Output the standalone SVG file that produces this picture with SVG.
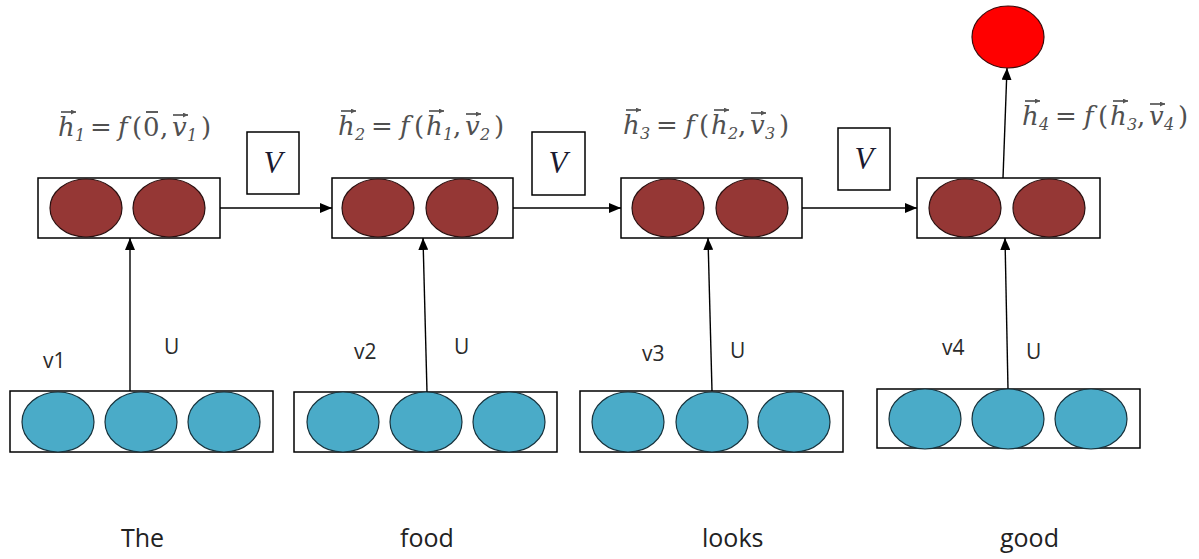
<svg xmlns="http://www.w3.org/2000/svg" width="1199" height="559" viewBox="0 0 1199 559">
<defs>
<marker id="arr" markerUnits="userSpaceOnUse" markerWidth="12" markerHeight="10" refX="12" refY="5" orient="auto">
<path d="M0,0 L12,5 L0,10 z" fill="#000"/>
</marker>
<marker id="vec" markerUnits="userSpaceOnUse" markerWidth="5" markerHeight="5" refX="5" refY="2.5" orient="auto">
<path d="M0,0 L5,2.5 L0,5 z" fill="#555"/>
</marker>
<style>
.box{fill:#fff;stroke:#000;stroke-width:1.5}
.hid{fill:#953735;stroke:#2a1010;stroke-width:1.2}
.inp{fill:#4aabc8;stroke:#17323c;stroke-width:1.2}
.out{fill:#ff0000;stroke:#3a0a0a;stroke-width:1.2}
.conn{stroke:#000;stroke-width:1.4;fill:none;marker-end:url(#arr)}
.f{font-family:"DejaVu Serif","Liberation Serif",serif;font-style:italic;font-size:26px;fill:#505050}
.f .n{font-style:normal}
.f .s{font-size:16px}
.vb{stroke:#555;stroke-width:1.7;fill:none;marker-end:url(#vec)}
.bar{stroke:#555;stroke-width:1.9;fill:none}
.vlab{font-family:"Liberation Serif",serif;font-style:italic;font-size:31px;fill:#1a1a30}
.lab{font-family:"Open Sans","Liberation Sans",sans-serif;font-size:21px;fill:#2a2a2a}
.word{font-family:"Open Sans","Liberation Sans",sans-serif;font-size:25px;fill:#222}
</style>
</defs>

<g id="connectors">
<line class="conn" x1="220" y1="208" x2="332" y2="208"/>
<line class="conn" x1="513" y1="208" x2="621" y2="208"/>
<line class="conn" x1="802" y1="208" x2="917" y2="208"/>
<line class="conn" x1="130" y1="391" x2="130" y2="238"/>
<line class="conn" x1="427" y1="392" x2="423" y2="238"/>
<line class="conn" x1="712" y1="391" x2="708" y2="238"/>
<line class="conn" x1="1008" y1="389" x2="1005" y2="238"/>
<line class="conn" x1="1003" y1="178" x2="1007" y2="68"/>
</g>

<g id="hidden1">
<rect class="box" x="38" y="178" width="182" height="60"/>
<ellipse class="hid" cx="86" cy="208" rx="36" ry="29"/>
<ellipse class="hid" cx="169" cy="208" rx="36" ry="29"/>
</g>
<g id="hidden2">
<rect class="box" x="332" y="178" width="181" height="60"/>
<ellipse class="hid" cx="378" cy="208" rx="36" ry="29"/>
<ellipse class="hid" cx="462" cy="208" rx="36" ry="29"/>
</g>
<g id="hidden3">
<rect class="box" x="621" y="178" width="181" height="60"/>
<ellipse class="hid" cx="668" cy="208" rx="36" ry="29"/>
<ellipse class="hid" cx="752" cy="208" rx="36" ry="29"/>
</g>
<g id="hidden4">
<rect class="box" x="917" y="178" width="183" height="60"/>
<ellipse class="hid" cx="965" cy="208" rx="36" ry="29"/>
<ellipse class="hid" cx="1049" cy="208" rx="36" ry="29"/>
</g>

<g id="output">
<ellipse class="out" cx="1008" cy="37" rx="36" ry="31"/>
</g>

<g id="input1">
<rect class="box" x="10" y="391" width="263" height="61"/>
<ellipse class="inp" cx="58" cy="422" rx="36" ry="30"/>
<ellipse class="inp" cx="141" cy="422" rx="36" ry="30"/>
<ellipse class="inp" cx="224" cy="422" rx="36" ry="30"/>
</g>
<g id="input2">
<rect class="box" x="294" y="392" width="263" height="60"/>
<ellipse class="inp" cx="343" cy="422" rx="36" ry="30"/>
<ellipse class="inp" cx="426" cy="422" rx="36" ry="30"/>
<ellipse class="inp" cx="509" cy="422" rx="36" ry="30"/>
</g>
<g id="input3">
<rect class="box" x="580" y="391" width="263" height="61"/>
<ellipse class="inp" cx="628" cy="422" rx="36" ry="30"/>
<ellipse class="inp" cx="712" cy="422" rx="36" ry="30"/>
<ellipse class="inp" cx="794" cy="422" rx="36" ry="30"/>
</g>
<g id="input4">
<rect class="box" x="877" y="389" width="263" height="59"/>
<ellipse class="inp" cx="925" cy="419" rx="36" ry="30"/>
<ellipse class="inp" cx="1008" cy="419" rx="36" ry="30"/>
<ellipse class="inp" cx="1091" cy="419" rx="36" ry="30"/>
</g>

<g id="V1"><rect class="box" x="247" y="132" width="52" height="62"/><text class="vlab" x="273" y="173" text-anchor="middle">V</text></g>
<g id="V2"><rect class="box" x="532" y="132" width="53" height="63"/><text class="vlab" x="558" y="173" text-anchor="middle">V</text></g>
<g id="V3"><rect class="box" x="838" y="128" width="52" height="62"/><text class="vlab" x="864" y="169" text-anchor="middle">V</text></g>

<g id="formula1" transform="translate(58,136)">
<text class="f"><tspan x="0" y="0">h</tspan><tspan class="s" x="17" y="5">1</tspan><tspan class="n" x="32" y="0">=</tspan><tspan x="60" y="0">f</tspan><tspan class="n" x="74" y="0">(</tspan><tspan class="n" x="85" y="0">0</tspan><tspan class="n" x="102" y="0">,</tspan><tspan x="114" y="0">v</tspan><tspan class="s" x="129" y="5">1</tspan><tspan class="n" x="143" y="0">)</tspan></text>
<line class="vb" x1="3" y1="-24" x2="18" y2="-24"/>
<line class="bar" x1="88" y1="-24" x2="100" y2="-24"/>
<line class="vb" x1="115" y1="-21" x2="130" y2="-21"/>
</g>

<g id="formula2" transform="translate(338,135)">
<text class="f"><tspan x="0" y="0">h</tspan><tspan class="s" x="17" y="5">2</tspan><tspan class="n" x="33" y="0">=</tspan><tspan x="62" y="0">f</tspan><tspan class="n" x="76" y="0">(</tspan><tspan x="88" y="0">h</tspan><tspan class="s" x="105" y="5">1</tspan><tspan class="n" x="115" y="0">,</tspan><tspan x="127" y="0">v</tspan><tspan class="s" x="142" y="5">2</tspan><tspan class="n" x="156" y="0">)</tspan></text>
<line class="vb" x1="3" y1="-24" x2="18" y2="-24"/>
<line class="vb" x1="91" y1="-24" x2="106" y2="-24"/>
<line class="vb" x1="128" y1="-21" x2="143" y2="-21"/>
</g>

<g id="formula3" transform="translate(623,134)">
<text class="f"><tspan x="0" y="0">h</tspan><tspan class="s" x="17" y="5">3</tspan><tspan class="n" x="33" y="0">=</tspan><tspan x="62" y="0">f</tspan><tspan class="n" x="76" y="0">(</tspan><tspan x="88" y="0">h</tspan><tspan class="s" x="105" y="5">2</tspan><tspan class="n" x="115" y="0">,</tspan><tspan x="127" y="0">v</tspan><tspan class="s" x="142" y="5">3</tspan><tspan class="n" x="156" y="0">)</tspan></text>
<line class="vb" x1="3" y1="-24" x2="18" y2="-24"/>
<line class="vb" x1="91" y1="-24" x2="106" y2="-24"/>
<line class="vb" x1="128" y1="-21" x2="143" y2="-21"/>
</g>

<g id="formula4" transform="translate(1022,125)">
<text class="f"><tspan x="0" y="0">h</tspan><tspan class="s" x="17" y="5">4</tspan><tspan class="n" x="33" y="0">=</tspan><tspan x="62" y="0">f</tspan><tspan class="n" x="76" y="0">(</tspan><tspan x="88" y="0">h</tspan><tspan class="s" x="105" y="5">3</tspan><tspan class="n" x="115" y="0">,</tspan><tspan x="127" y="0">v</tspan><tspan class="s" x="142" y="5">4</tspan><tspan class="n" x="156" y="0">)</tspan></text>
<line class="vb" x1="3" y1="-24" x2="18" y2="-24"/>
<line class="vb" x1="91" y1="-24" x2="106" y2="-24"/>
<line class="vb" x1="128" y1="-21" x2="143" y2="-21"/>
</g>

<g id="labels">
<text class="lab" x="43" y="368">v1</text>
<text class="lab" x="164" y="354">U</text>
<text class="lab" x="354" y="359">v2</text>
<text class="lab" x="454" y="354">U</text>
<text class="lab" x="642" y="361">v3</text>
<text class="lab" x="730" y="358">U</text>
<text class="lab" x="942" y="355">v4</text>
<text class="lab" x="1026" y="359">U</text>
</g>

<g id="words">
<text class="word" x="121" y="547">The</text>
<text class="word" x="400" y="547">food</text>
<text class="word" x="702" y="547">looks</text>
<text class="word" x="1000" y="547">good</text>
</g>
</svg>
